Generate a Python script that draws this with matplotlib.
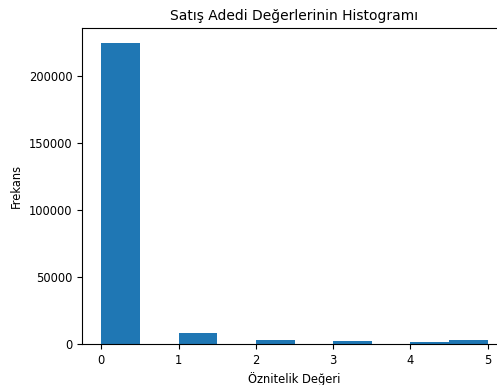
import matplotlib
matplotlib.use("Agg")
import matplotlib.pyplot as plt

values = [0, 1, 2, 3, 4, 5]
counts = [224300, 8200, 2700, 2100, 1400, 3000]

title = "Satış Adedi Değerlerinin Histogramı"
xlabel = "Öznitelik Değeri"
ylabel = "Frekans"

plt.rcParams['font.size'] = 8.3
W, H = 497, 385
fig = plt.figure(figsize=(W / 100, H / 100), dpi=100)
ax = fig.add_axes([82 / W, (H - 344) / H, 425 / W, (344 - 28) / H])
ax.hist(values, bins=10, range=(0, 5), weights=counts, color='#1f77b4')
ax.set_title(title, fontsize=10)
ax.set_xlabel(xlabel)
ax.set_ylabel(ylabel)
fig.savefig("out.png", dpi=100)
